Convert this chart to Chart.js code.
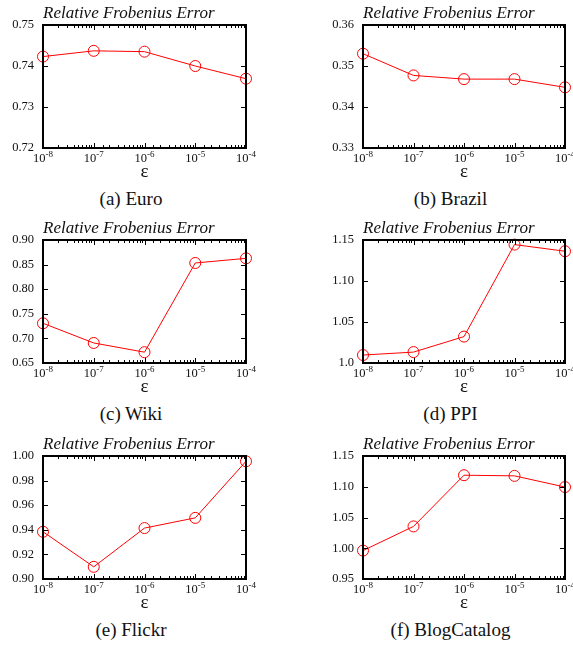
<!DOCTYPE html>
<html lang="en">
<head>
    <meta charset="UTF-8">
    <script src="https://cdn.jsdelivr.net/npm/chart.js@4"></script>
    <title>Relative Frobenius Error</title>
    <style>
        body { margin: 0; width: 573px; height: 648px; overflow: hidden; background: #fff; position: relative; }
        canvas { position: absolute; }
        .ttl { position: absolute; font-family: 'Liberation Serif'; font-style: italic; font-size: 17px; line-height: 17px; color: #111; white-space: nowrap; }
        .cap { position: absolute; width: 200px; text-align: center; font-family: 'Liberation Serif'; font-size: 19px; line-height: 19px; color: #111; }
    </style>
</head>
<body>
    <div id="wrap"></div>
    <script>
        // x values (epsilon) and their tick labels (10 to the exponent)
        var epsValues = [1e-8, 1e-7, 1e-6, 1e-5, 1e-4];
        var epsExponents = ['-8', '-7', '-6', '-5', '-4'];

        // relative frobenius error
        var euroError   = [0.7423, 0.7437, 0.7435, 0.7400, 0.7369];
        var brazilError = [0.3530, 0.3477, 0.3468, 0.3468, 0.3448];
        var wikiError   = [0.7307, 0.6907, 0.6720, 0.8533, 0.8627];
        var ppiError    = [1.0097, 1.0133, 1.0322, 1.1444, 1.1363];
        var flickrError = [0.9384, 0.9099, 0.9414, 0.9497, 0.9957];
        var blogError   = [0.9962, 1.0355, 1.1188, 1.1177, 1.0995];

        // y tick labels, bottom to top
        var euroTicks   = ['0.72', '0.73', '0.74', '0.75'];
        var brazilTicks = ['0.33', '0.34', '0.35', '0.36'];
        var wikiTicks   = ['0.65', '0.70', '0.75', '0.80', '0.85', '0.90'];
        var ppiTicks    = ['1.0', '1.05', '1.10', '1.15'];
        var flickrTicks = ['0.90', '0.92', '0.94', '0.96', '0.98', '1.00'];
        var blogTicks   = ['0.95', '1.00', '1.05', '1.10', '1.15'];

        var captions = ['(a) Euro', '(b) Brazil', '(c) Wiki', '(d) PPI', '(e) Flickr', '(f) BlogCatalog'];
        var errors = [euroError, brazilError, wikiError, ppiError, flickrError, blogError];
        var tickSets = [euroTicks, brazilTicks, wikiTicks, ppiTicks, flickrTicks, blogTicks];

        var rowTop = [0, 215, 431];
        var red = 'rgb(255,0,0)';
        var serif = 'Liberation Serif';

        function isPow10(v) {
            var e = Math.log10(v);
            return Math.abs(e - Math.round(e)) < 1e-6;
        }

        // frame, inward ticks and 10^n labels, gnuplot style
        var framePlugin = {
            id: 'frame',
            afterDraw: function(chart) {
                var c = chart.ctx, a = chart.chartArea;
                var xs = chart.scales.x, ys = chart.scales.y;
                c.save();
                c.strokeStyle = '#000';
                c.lineWidth = 1;
                c.beginPath();
                xs.ticks.forEach(function(t) {
                    if (t.value < xs.min * 0.999 || t.value > xs.max * 1.001) return;
                    var px = Math.round(xs.getPixelForValue(t.value)) + 0.5;
                    var len = isPow10(t.value) ? 5 : 3;
                    c.moveTo(px, a.bottom); c.lineTo(px, a.bottom - len);
                    c.moveTo(px, a.top); c.lineTo(px, a.top + len);
                });
                ys.ticks.forEach(function(t) {
                    var py = Math.round(ys.getPixelForValue(t.value)) + 0.5;
                    c.moveTo(a.left, py); c.lineTo(a.left + 5, py);
                    c.moveTo(a.right, py); c.lineTo(a.right - 5, py);
                });
                c.stroke();
                c.lineWidth = 2;
                c.strokeRect(a.left, a.top, a.right - a.left, a.bottom - a.top);

                // x labels with superscript exponent
                c.fillStyle = '#111';
                c.textBaseline = 'alphabetic';
                c.textAlign = 'left';
                for (var k = 0; k < epsValues.length; k++) {
                    var px2 = xs.getPixelForValue(epsValues[k]);
                    c.font = '12.5px ' + serif;
                    var wb = c.measureText('10').width;
                    c.font = '9px ' + serif;
                    var we = c.measureText(epsExponents[k]).width;
                    var sx = px2 - (wb + we) / 2;
                    c.font = '12.5px ' + serif;
                    c.fillText('10', sx, a.bottom + 14);
                    c.font = '9px ' + serif;
                    c.fillText(epsExponents[k], sx + wb, a.bottom + 9);
                }
                c.restore();
            }
        };

        function makePanel(i) {
            var wrap = document.getElementById('wrap');
            var col = i % 2, row = Math.floor(i / 2);
            var x0 = col == 0 ? 0 : 290;
            var w = col == 0 ? 290 : 300;
            var yWidth = col == 0 ? 43 : 73;
            var padRight = col == 0 ? 44 : 25;
            var y0 = rowTop[row];

            var cv = document.createElement('canvas');
            cv.width = w; cv.height = 185;
            cv.style.left = x0 + 'px'; cv.style.top = y0 + 'px';
            wrap.appendChild(cv);

            var plotLeft = x0 + yWidth;
            var ttl = document.createElement('div');
            ttl.className = 'ttl';
            ttl.textContent = 'Relative Frobenius Error';
            ttl.style.left = plotLeft + 'px';
            ttl.style.top = (y0 + 4) + 'px';
            wrap.appendChild(ttl);

            var plotRight = x0 + w - padRight;
            var cap = document.createElement('div');
            cap.className = 'cap';
            cap.textContent = captions[i];
            cap.style.left = ((plotLeft + plotRight) / 2 - 13.5 - 100) + 'px';
            cap.style.top = (y0 + 189) + 'px';
            wrap.appendChild(cap);

            var labels = tickSets[i];
            var yMin = parseFloat(labels[0]);
            var yMax = parseFloat(labels[labels.length - 1]);
            var yStep = (yMax - yMin) / (labels.length - 1);

            var pts = [];
            for (var j = 0; j < epsValues.length; j++) pts.push({x: epsValues[j], y: errors[i][j]});

            new Chart(cv, {
                type: 'line',
                data: {
                    datasets: [{
                        data: pts,
                        borderColor: red,
                        borderWidth: 1,
                        pointRadius: 5.5,
                        pointBorderWidth: 1,
                        pointBorderColor: red,
                        pointBackgroundColor: 'rgba(0,0,0,0)',
                        tension: 0,
                        clip: false
                    }]
                },
                options: {
                    responsive: false,
                    animation: false,
                    layout: { padding: { top: 25, right: padRight, left: 0, bottom: 0 } },
                    plugins: { legend: { display: false }, tooltip: { enabled: false } },
                    scales: {
                        x: {
                            type: 'logarithmic',
                            min: 1e-8, max: 1e-4,
                            grid: { display: false, drawTicks: false },
                            border: { display: false },
                            ticks: { display: false, autoSkip: false },
                            title: {
                                display: true, text: 'ε', color: '#111',
                                font: { family: serif, size: 19 },
                                padding: { top: 0, bottom: 2 }
                            },
                            afterFit: function(s) { s.height = 37; }
                        },
                        y: {
                            min: yMin, max: yMax,
                            grid: { display: false, drawTicks: false },
                            border: { display: false },
                            ticks: {
                                stepSize: yStep, padding: 9, color: '#111',
                                font: { family: serif, size: 12.5 },
                                callback: function(v) {
                                    var k = Math.round((v - yMin) / yStep);
                                    return labels[k];
                                }
                            },
                            afterFit: function(s) { s.width = yWidth; }
                        }
                    }
                },
                plugins: [framePlugin]
            });
        }

        for (var i = 0; i < 6; i++) makePanel(i);
    </script>
</body>
</html>
